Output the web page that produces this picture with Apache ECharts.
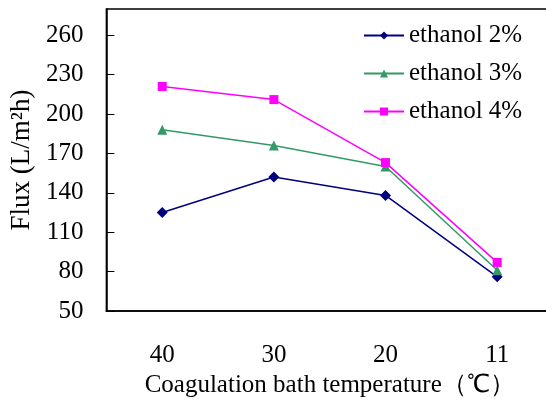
<!DOCTYPE html>
<html>
<head>
<meta charset="utf-8">
<script src="https://cdn.jsdelivr.net/npm/echarts@6/dist/echarts.min.js"></script>
<style>
  html, body { margin: 0; padding: 0; background: #fff; overflow: hidden; }
  /* plot frame runs past the right edge of the picture */
  #chart { width: 553px; height: 406px; }
</style>
</head>
<body>
<div id="chart"></div>
<script>
// data
const temps = ["40", "30", "20", "11"];
const eth2 = [125, 152, 138, 76];
const eth3 = [188, 176, 160, 81];
const eth4 = [221, 211, 163, 87];
const seriesNames = ["ethanol 2%", "ethanol 3%", "ethanol 4%"];

const font = "'Liberation Serif', 'Times New Roman', serif";
const chart = echarts.init(document.getElementById("chart"));

const mk = (name, data, color, symbol, size) => ({
  name: name,
  type: "line",
  data: data,
  symbol: symbol,
  symbolSize: size,
  showSymbol: true,
  lineStyle: { color: color, width: 1.5 },
  itemStyle: { color: color },
  emphasis: { disabled: true }
});

let option = {
  animation: false,
  textStyle: { fontFamily: font, color: "#000" },
  grid: {
    left: 106, top: 9, right: 0, height: 302,
    show: true, borderColor: "#000", borderWidth: 1.5
  },
  legend: {
    orient: "vertical",
    left: 358, top: 18,
    itemWidth: 40, itemHeight: 10,
    itemGap: 13,
    textStyle: { fontFamily: font, fontSize: 25, color: "#000" },
    data: seriesNames
  },
  xAxis: {
    type: "category",
    data: temps,
    boundaryGap: true,
    name: "Coagulation bath temperature（℃）",
    nameLocation: "middle",
    nameGap: 60,
    nameTextStyle: { fontFamily: font, fontSize: 25, color: "#000" },
    axisLine: { lineStyle: { color: "#000", width: 1.5 } },
    axisTick: { inside: true, length: 8, lineStyle: { color: "#000" } },
    axisLabel: { fontFamily: font, fontSize: 25, color: "#000", margin: 32 }
  },
  yAxis: {
    type: "value",
    min: 50, max: 280, interval: 30,
    name: "Flux (L/m²h)",
    nameLocation: "middle",
    nameGap: 66,
    nameTextStyle: { fontFamily: font, fontSize: 27, color: "#000" },
    axisLine: { show: true, lineStyle: { color: "#000", width: 1.5 } },
    axisTick: { show: true, inside: true, length: 8, lineStyle: { color: "#000" } },
    axisLabel: { fontFamily: font, fontSize: 25, color: "#000", margin: 23, showMaxLabel: false },
    splitLine: { show: false }
  },
  series: [
    mk(seriesNames[0], eth2, "#000080", "diamond", 11),
    mk(seriesNames[1], eth3, "#339966", "triangle", 10),
    mk(seriesNames[2], eth4, "#ff00ff", "rect", 9)
  ]
};

chart.setOption(option);
</script>
</body>
</html>
